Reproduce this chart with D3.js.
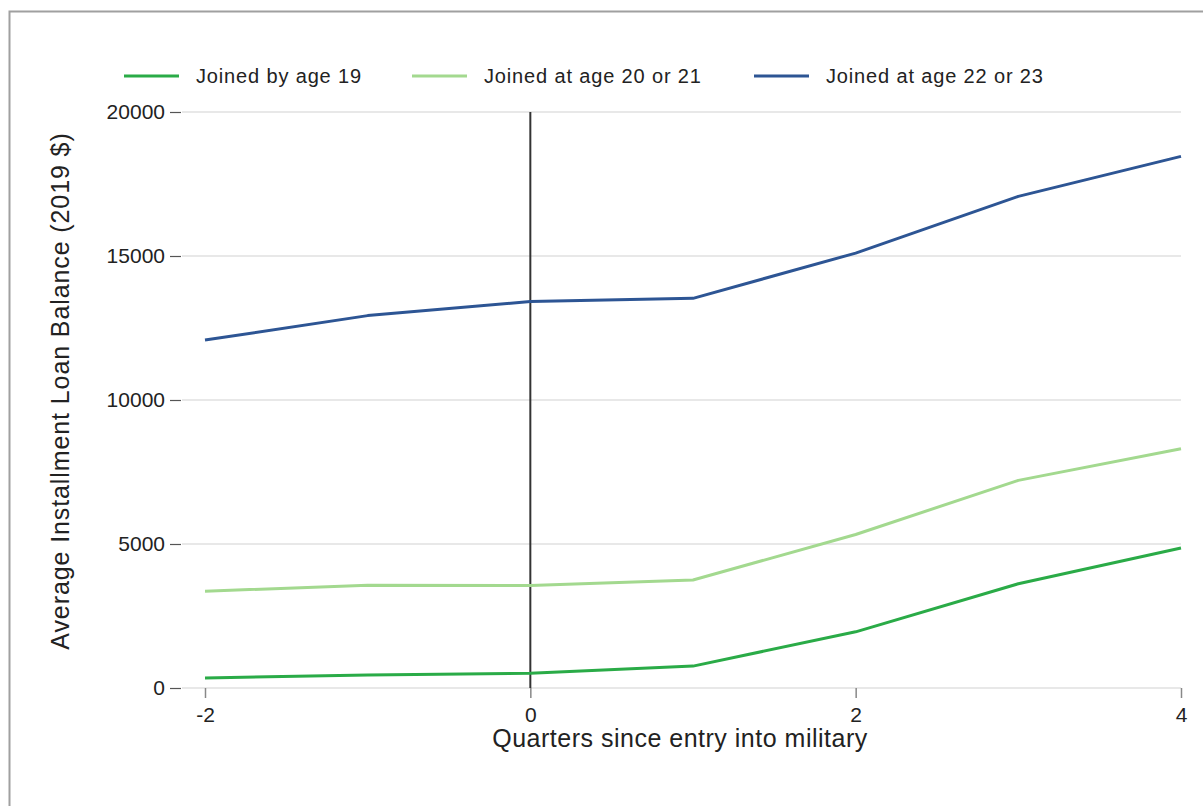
<!DOCTYPE html>
<html>
<head>
<meta charset="utf-8">
<script src="https://cdn.jsdelivr.net/npm/d3@7"></script>
<style>
  html, body { margin: 0; padding: 0; background: #fff; }
  svg { display: block; }
  text { font-family: "Liberation Sans", Arial, sans-serif; fill: #222; }
</style>
</head>
<body>
<svg id="chart" width="1203" height="806"></svg>
<script>
// ---- data ----
const quarters = [-2, -1, 0, 1, 2, 3, 4];
const seriesNames = ["Joined by age 19", "Joined at age 20 or 21", "Joined at age 22 or 23"];
const joinedBy19 = [350, 450, 510, 760, 1950, 3620, 4860];
const joined20or21 = [3360, 3570, 3560, 3750, 5330, 7210, 8310];
const joined22or23 = [12080, 12930, 13420, 13530, 15100, 17070, 18460];
const seriesColors = ["#2aab47", "#a3d98f", "#2d5594"];
const yTicks = [0, 5000, 10000, 15000, 20000];
const xTicks = [-2, 0, 2, 4];
const xTitle = "Quarters since entry into military";
const yTitle = "Average Installment Loan Balance (2019 $)";
const entryQuarter = 0;

const series = [joinedBy19, joined20or21, joined22or23];

const svg = d3.select("#chart");

// outer border
svg.append("rect")
  .attr("x", 9.5).attr("y", 11.5)
  .attr("width", 1210).attr("height", 810)
  .attr("fill", "none").attr("stroke", "#a0a0a0").attr("stroke-width", 2);

const x = d3.scaleLinear().domain([-2, 4]).range([205, 1181]);
const y = d3.scaleLinear().domain([0, 20000]).range([688, 112]);

// gridlines
svg.append("g").selectAll("line").data(yTicks).join("line")
  .attr("x1", 182).attr("x2", 1181)
  .attr("y1", d => y(d)).attr("y2", d => y(d))
  .attr("stroke", "#e0e0e0").attr("stroke-width", 1.5);

// y axis (ticks + labels)
const yAxis = d3.axisLeft(y).tickValues(yTicks).tickSize(11).tickPadding(5).tickFormat(d => String(d));
const gy = svg.append("g").attr("transform", "translate(181,0)").call(yAxis);
gy.select(".domain").remove();
gy.selectAll(".tick line").attr("stroke", "#555").attr("stroke-width", 1.2);
gy.selectAll(".tick text").attr("font-size", 21).attr("font-family", "Liberation Sans, Arial, sans-serif").attr("fill", "#222");

// x axis
const xAxis = d3.axisBottom(x).tickValues(xTicks).tickSize(10).tickPadding(9).tickFormat(d => String(d));
const gx = svg.append("g").attr("transform", "translate(0,688)").call(xAxis);
gx.select(".domain").remove();
gx.selectAll(".tick line").attr("stroke", "#888").attr("stroke-width", 1.5);
gx.selectAll(".tick text").attr("font-size", 21).attr("font-family", "Liberation Sans, Arial, sans-serif").attr("fill", "#222");

// vertical reference line
svg.append("line")
  .attr("x1", x(entryQuarter)).attr("x2", x(entryQuarter))
  .attr("y1", y(20000)).attr("y2", y(0))
  .attr("stroke", "#333").attr("stroke-width", 2);

// series lines
const line = d3.line().x((d, i) => x(quarters[i])).y(d => y(d));
svg.append("g").selectAll("path").data(series).join("path")
  .attr("d", d => line(d))
  .attr("fill", "none")
  .attr("stroke", (d, i) => seriesColors[i])
  .attr("stroke-width", 3)
  .attr("stroke-linejoin", "round");

// legend
const legendX = [124, 412, 754];
const lg = svg.append("g").selectAll("g").data(seriesNames).join("g")
  .attr("transform", (d, i) => `translate(${legendX[i]},76)`);
lg.append("line").attr("x1", 0).attr("x2", 55).attr("y1", 0).attr("y2", 0)
  .attr("stroke", (d, i) => seriesColors[i]).attr("stroke-width", 3);
lg.append("text").attr("x", 72).attr("y", 7).attr("font-size", 20)
  .attr("letter-spacing", "0.85px").text(d => d);

// axis titles
svg.append("text")
  .attr("x", 680).attr("y", 747)
  .attr("text-anchor", "middle").attr("font-size", 25).attr("letter-spacing", "0.5px")
  .text(xTitle);
svg.append("text")
  .attr("transform", "translate(69,391) rotate(-90)")
  .attr("text-anchor", "middle").attr("font-size", 25).attr("letter-spacing", "0.9px")
  .text(yTitle);
</script>
</body>
</html>
